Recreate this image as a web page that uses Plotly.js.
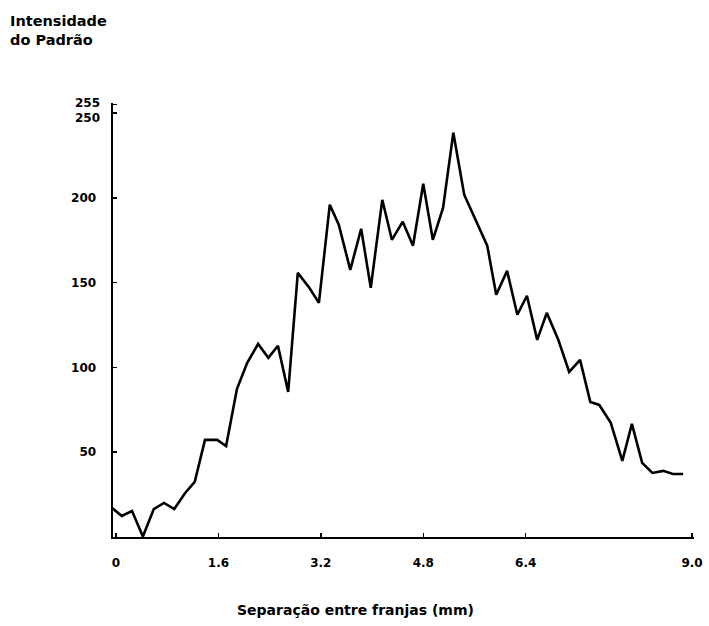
<!DOCTYPE html>
<html>
<head>
<meta charset="utf-8">
<script src="https://cdn.plot.ly/plotly-3.0.1.min.js"></script>
<style>
  html, body { margin: 0; padding: 0; background: #ffffff; }
  #chart { width: 709px; height: 626px; }
</style>
</head>
<body>
<div id="chart"></div>
<script>
// Fringe separation (mm) sampled along the pattern
const separacao = [
  -0.06, 0.09, 0.25, 0.42, 0.59, 0.75, 0.91, 1.08, 1.23, 1.39,
  1.58, 1.72, 1.89, 2.05, 2.22, 2.38, 2.53, 2.69, 2.84, 3.02,
  3.17, 3.34, 3.48, 3.66, 3.83, 3.98, 4.16, 4.31, 4.48, 4.64,
  4.80, 4.95, 5.11, 5.27, 5.44, 5.60, 5.80, 5.94, 6.11, 6.27,
  6.42, 6.58, 6.73, 6.91, 7.08, 7.25, 7.41, 7.55, 7.73, 7.91,
  8.06, 8.22, 8.38, 8.55, 8.70, 8.86
];

// Pattern intensity (0-255 grey levels)
const intensidade = [
  17.1, 12.4, 15.3, 0.3, 16.5, 20.1, 16.5, 26.0, 32.5, 57.3,
  57.3, 53.7, 87.4, 102.7, 113.9, 105.7, 112.8, 85.6, 155.8, 147.0,
  138.1, 196.0, 184.2, 157.6, 181.8, 147.0, 198.9, 175.3, 186.0, 171.8,
  208.4, 175.3, 194.2, 238.5, 201.9, 188.9, 171.8, 142.9, 157.0, 131.1,
  142.3, 116.3, 132.2, 116.3, 97.4, 104.5, 79.7, 77.9, 67.3, 44.9,
  66.7, 43.7, 37.8, 39.0, 37.2, 37.2
];

// Axis tick values and their printed labels
const xTickVals = [0, 1.6, 3.2, 4.8, 6.4, 9.0];
const xTickText = ['0', '1.6', '3.2', '4.8', '6.4', '9.0'];
const yTickVals = [50, 100, 150, 200, 250, 255];
const yTickText = ['50', '100', '150', '200', '', ''];
// the two top labels sit close together, so they are spread apart on their own axes
const yTickTop = [250];
const yTickMax = [255];

const tickFont = { family: 'DejaVu Sans, sans-serif', size: 12, color: '#000000', weight: 'bold' };
const titleFont = { family: 'DejaVu Sans, sans-serif', size: 14, color: '#000000', weight: 'bold' };
const Y_RANGE = [0, 256];

const trace = {
  type: 'scatter',
  mode: 'lines',
  x: separacao,
  y: intensidade,
  line: { color: '#000000', width: 2.6, shape: 'linear' },
  hoverinfo: 'x+y'
};

// invisible helper traces so the overlay label axes get drawn
const helper2 = { type: 'scatter', mode: 'none', x: [], y: [], yaxis: 'y2', hoverinfo: 'skip' };
const helper3 = { type: 'scatter', mode: 'none', x: [], y: [], yaxis: 'y3', hoverinfo: 'skip' };

function labelAxis(vals, shift) {
  return {
    overlaying: 'y',
    side: 'left',
    range: Y_RANGE,
    tickmode: 'array',
    tickvals: vals,
    ticktext: vals.map(String),
    ticks: 'inside',
    ticklen: 4,
    tickcolor: 'rgba(0,0,0,0)',
    ticklabelstandoff: 12,
    ticklabelshift: shift,
    tickfont: tickFont,
    showgrid: false,
    zeroline: false,
    showline: false
  };
}

const layout = {
  width: 709,
  height: 626,
  margin: { l: 113, r: 15, t: 103, b: 89 },
  paper_bgcolor: '#ffffff',
  plot_bgcolor: '#ffffff',
  showlegend: false,
  xaxis: {
    range: [-0.047, 9.03],
    tickmode: 'array',
    tickvals: xTickVals,
    ticktext: xTickText,
    ticks: 'inside',
    ticklen: 4,
    tickwidth: 1.5,
    tickcolor: '#000000',
    ticklabelstandoff: 14,
    tickfont: tickFont,
    showgrid: false,
    zeroline: false,
    showline: true,
    linecolor: '#000000',
    linewidth: 2
  },
  yaxis: {
    range: Y_RANGE,
    tickmode: 'array',
    tickvals: yTickVals,
    ticktext: yTickText,
    ticks: 'inside',
    ticklen: 4,
    tickwidth: 1.5,
    tickcolor: '#000000',
    ticklabelstandoff: 12,
    tickfont: tickFont,
    showgrid: false,
    zeroline: false,
    showline: true,
    linecolor: '#000000',
    linewidth: 2.5
  },
  yaxis2: labelAxis(yTickTop, 5),
  yaxis3: labelAxis(yTickMax, -2),
  annotations: [
    {
      text: 'Intensidade<br>do Padrão',
      xref: 'paper', yref: 'paper',
      x: -105 / 581, y: 1 + 92 / 434,
      xanchor: 'left', yanchor: 'top',
      align: 'left',
      showarrow: false,
      font: { family: 'DejaVu Sans, sans-serif', size: 14.5, color: '#000000', weight: 'bold' }
    },
    {
      text: 'Separação entre franjas (mm)',
      xref: 'paper', yref: 'paper',
      x: (355 - 113) / 581, y: -(610 - 537) / 434,
      xanchor: 'center', yanchor: 'middle',
      showarrow: false,
      font: titleFont
    }
  ]
};

Plotly.newPlot('chart', [trace, helper2, helper3], layout, { displayModeBar: false, staticPlot: true });
</script>
</body>
</html>
